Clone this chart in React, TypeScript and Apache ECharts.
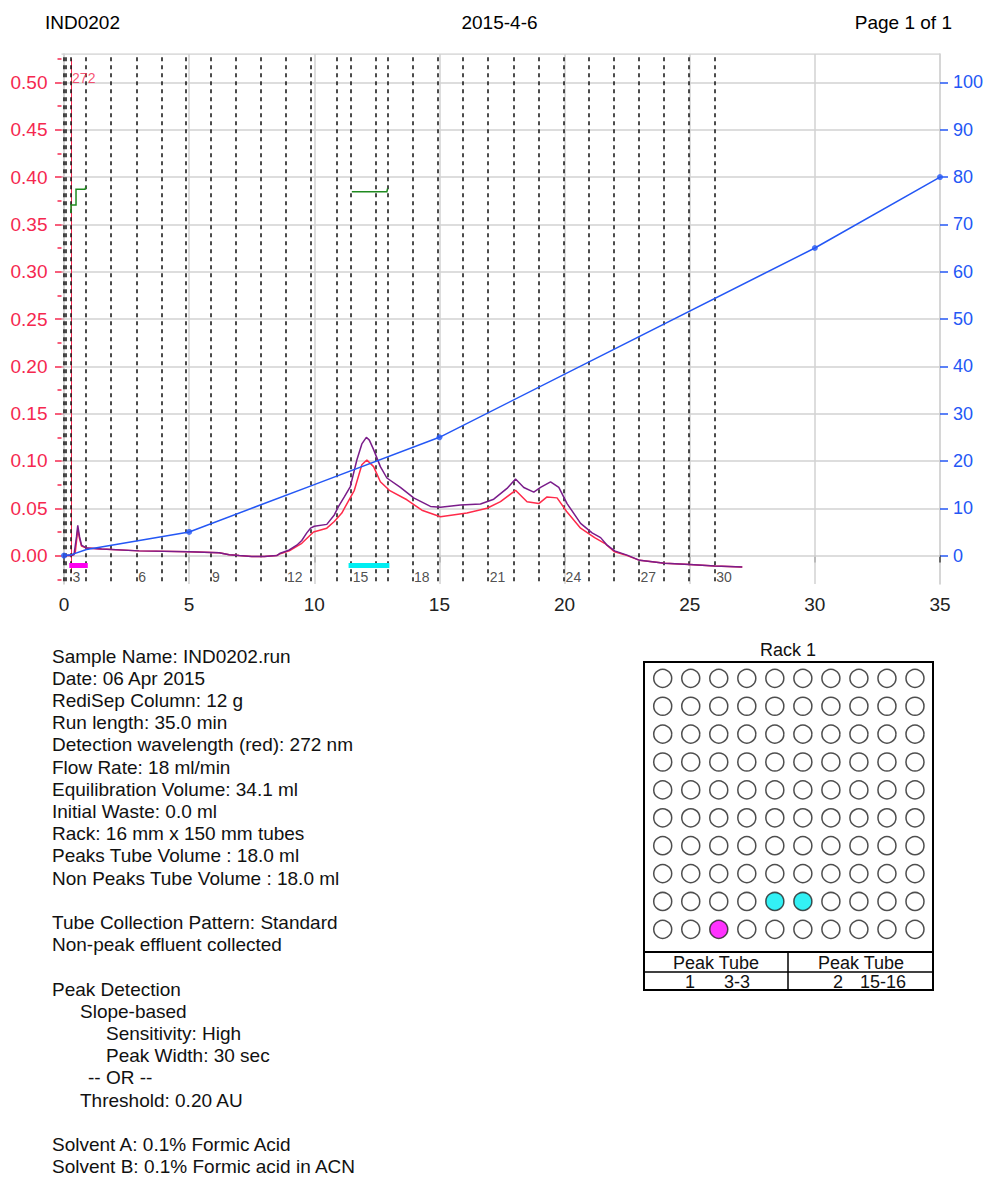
import React, { useEffect, useRef } from "react";
import * as echarts from "echarts";

// ---------- data ----------
const xTicks = [0, 5, 10, 15, 20, 25, 30, 35];
const leftTicks = [0, 5, 10, 15, 20, 25, 30, 35, 40, 45, 50].map((v) => v / 100);
const leftMinorTicks = [-25, 25, 75, 125, 175, 225, 275, 325, 375, 425, 475, 525].map((v) => v / 1000);
const rightTicks = [0, 10, 20, 30, 40, 50, 60, 70, 80, 90, 100];

// tube start times (min), tube 1..30
const tubeStarts = [0, 0.07, 0.28, 0.87, 1.87, 2.9, 3.9, 4.88, 5.85, 6.85, 7.85, 8.85, 9.85, 10.88, 11.47,
  12.45, 12.93, 13.92, 14.92, 15.95, 16.95, 17.96, 18.98, 19.98, 20.97, 21.96, 22.97, 23.97, 24.97, 26.0];
const tubeLabelNums = [3, 6, 9, 12, 15, 18, 21, 24, 27, 30];

// absorbance traces [time, AU]
const redTrace: [number, number][] = [
  [0, 0], [0.28, 0], [0.45, 0.003], [0.55, 0.028], [0.62, 0.018], [0.7, 0.01], [0.9, 0.008], [1.5, 0.007],
  [3, 0.005], [5, 0.004], [6.2, 0.003], [6.6, 0.001], [7, 0], [7.5, -0.001], [8, -0.001], [8.5, 0],
  [8.64, 0.002], [9.0, 0.005], [9.5, 0.013], [9.97, 0.025], [10.5, 0.029], [10.8, 0.036], [11.1, 0.045],
  [11.6, 0.069], [11.9, 0.096], [12.1, 0.101], [12.37, 0.094], [12.64, 0.078], [13.0, 0.069], [13.7, 0.059],
  [14.3, 0.048], [15.04, 0.041], [16.1, 0.045], [16.9, 0.05], [17.44, 0.057], [18.04, 0.069], [18.5, 0.057],
  [18.97, 0.055], [19.3, 0.062], [19.7, 0.061], [20.1, 0.046], [20.64, 0.029], [21.2, 0.019], [21.6, 0.013],
  [22.0, 0.004], [22.5, 0.0], [23, -0.005], [24, -0.008], [25, -0.0095], [26, -0.011], [27.1, -0.012],
];
const purpleTrace: [number, number][] = [
  [0, 0], [0.28, 0], [0.4, 0.001], [0.5, 0.02], [0.55, 0.032], [0.62, 0.02], [0.7, 0.011], [0.9, 0.008],
  [1.5, 0.007], [3, 0.005], [5, 0.004], [6.2, 0.003], [6.6, 0.001], [7, 0], [7.5, -0.001], [8.0, -0.001],
  [8.5, 0.0], [8.64, 0.0025], [9.0, 0.006], [9.3, 0.011], [9.5, 0.016], [9.7, 0.024], [9.85, 0.029],
  [10.0, 0.031], [10.5, 0.033], [10.8, 0.043], [10.97, 0.052], [11.2, 0.062], [11.44, 0.073], [11.7, 0.101],
  [11.9, 0.118], [12.08, 0.125], [12.2, 0.122], [12.37, 0.112], [12.64, 0.094], [12.9, 0.082], [13.44, 0.072],
  [13.97, 0.061], [14.64, 0.052], [15.04, 0.051], [15.84, 0.0535], [16.64, 0.0546], [17.17, 0.0596],
  [17.7, 0.071], [18.04, 0.081], [18.37, 0.072], [18.77, 0.067], [19.04, 0.072], [19.44, 0.078],
  [19.77, 0.072], [20.1, 0.055], [20.64, 0.034], [21.1, 0.024], [21.44, 0.019], [21.7, 0.011], [22.0, 0.005],
  [22.5, 0.0005], [23, -0.005], [24, -0.008], [25, -0.0095], [26, -0.011], [27.1, -0.012],
];

// %B gradient
const gradientTime = [0, 0.3, 0.9, 5, 10, 15, 30, 35];
const gradientB = [0, 0.2, 1.3, 5, 15, 25, 65, 80];
const nodeTime = [0, 5, 15, 30, 35];
const nodeB = [0, 5, 25, 65, 80];

// peak detection markers (green)
const greenStep1: [number, number][] = [[0.28, 0.362], [0.28, 0.3705], [0.48, 0.3705], [0.48, 0.387], [0.84, 0.387], [0.88, 0.39]];
const greenStep2: [number, number][] = [[11.5, 0.3845], [12.9, 0.3845], [12.93, 0.388]];

// collected peak bars [start, end, level]
const peakBar1: [number, number, number] = [0.21, 0.95, -0.0098];
const peakBar2: [number, number, number] = [11.37, 13.0, -0.0098];
const wavelengthLine = 0.28;
const wavelengthLabel = "272";

// rack
const peakTubes1 = [3];
const peakTubes2 = [15, 16];
const rackCols = 10;
const rackRows = 10;

const headerTexts = ["IND0202", "2015-4-6", "Page 1 of 1"];
const infoLines = [
  "Sample Name: IND0202.run",
  "Date: 06 Apr 2015",
  "RediSep Column: 12 g",
  "Run length: 35.0 min",
  "Detection wavelength (red): 272 nm",
  "Flow Rate: 18 ml/min",
  "Equilibration Volume: 34.1 ml",
  "Initial Waste: 0.0 ml",
  "Rack: 16 mm x 150 mm tubes",
  "Peaks Tube Volume : 18.0 ml",
  "Non Peaks Tube Volume : 18.0 ml",
  "",
  "Tube Collection Pattern: Standard",
  "Non-peak effluent collected",
  "",
  "Peak Detection",
  "Slope-based",
  "Sensitivity: High",
  "Peak Width: 30 sec",
  "-- OR --",
  "Threshold: 0.20 AU",
  "",
  "Solvent A: 0.1% Formic Acid",
  "Solvent B: 0.1% Formic acid in ACN",
];
const tableHeader = ["Peak Tube", "Peak Tube"];
const tableRows = [["1", "3-3"], ["2", "15-16"]];

// ---------- styles ----------
const FONT = '"Liberation Sans", Arial, Helvetica, sans-serif';
const RED = "#f5284f";
const PURPLE = "#7a1c8a";
const BLUE = "#2457f5";
const GRID = "#d2d2d2";
const Y_MIN = -0.03, Y_MAX = 0.53;
const X_MIN = -0.1, X_MAX = 35;

function txt(text: string, x: number, y: number, size: number, align: string, color = "#111") {
  return {
    type: "text",
    silent: true,
    style: {
      text, x, y, fill: color, fontSize: size, fontFamily: FONT, lineHeight: size,
      align, verticalAlign: "middle", textAlign: align, textVerticalAlign: "middle",
    },
  };
}

export default function App() {
  const ref = useRef<HTMLDivElement>(null);
  useEffect(() => {
    if (!ref.current) return;
    const chart = echarts.init(ref.current, null, { renderer: "svg" });

    const gridLines: any[] = [];
    leftTicks.forEach((v) => gridLines.push({ coords: [[X_MIN, v], [X_MAX, v]] }));
    xTicks.slice(1, -1).forEach((v) => gridLines.push({ coords: [[v, Y_MIN], [v, Y_MAX]] }));
    gridLines.push({ coords: [[X_MIN, Y_MAX], [X_MAX, Y_MAX]] });

    const tubeLines = tubeStarts.map((t) => ({ coords: [[t, -0.027], [t, Y_MAX]] }));

    const rackData: any[] = [];
    for (let n = 1; n <= rackCols * rackRows; n++) {
      const col = ((n - 1) % rackCols) + 1;
      const row = Math.floor((n - 1) / rackCols) + 1;
      let color = "#ffffff";
      if (peakTubes1.includes(n)) color = "#ff00ff";
      if (peakTubes2.includes(n)) color = "#00eef2";
      rackData.push({ value: [col, row, n], itemStyle: { color } });
    }

    const indentX = (i: number) => {
      const t = infoLines[i];
      if (t.startsWith("Sensitivity") || t.startsWith("Peak Width")) return 106;
      if (t.startsWith("--")) return 88;
      if (t.startsWith("Slope") || t.startsWith("Threshold")) return 80;
      return 52;
    };

    const graphics: any[] = [
      txt(headerTexts[0], 45, 22, 19, "left", "#000"),
      txt(headerTexts[1], 499.5, 22, 19, "center", "#000"),
      txt(headerTexts[2], 952, 22, 19, "right", "#000"),
      ...infoLines.map((t, i) => (t ? txt(t, indentX(i), 656 + 22.2 * i, 19, "left") : null)).filter(Boolean),
      txt("Rack 1", 788, 650, 18, "center"),
      { type: "rect", silent: true, shape: { x: 644, y: 662, width: 289, height: 328 }, style: { fill: "none", stroke: "#000", lineWidth: 2 } },
      { type: "line", silent: true, shape: { x1: 644, y1: 952, x2: 933, y2: 952 }, style: { stroke: "#000", lineWidth: 2 } },
      { type: "line", silent: true, shape: { x1: 644, y1: 972, x2: 933, y2: 972 }, style: { stroke: "#000", lineWidth: 1.5 } },
      { type: "line", silent: true, shape: { x1: 788, y1: 952, x2: 788, y2: 990 }, style: { stroke: "#000", lineWidth: 1.5 } },
      txt(tableHeader[0], 716, 962.5, 18, "center"),
      txt(tableHeader[1], 861, 962.5, 18, "center"),
      txt(tableRows[0][0], 690, 981.5, 18, "center"),
      txt(tableRows[0][1], 737, 981.5, 18, "center"),
      txt(tableRows[1][0], 838, 981.5, 18, "center"),
      txt(tableRows[1][1], 883, 981.5, 18, "center"),
    ];

    const option: any = {
      animation: false,
      backgroundColor: "#ffffff",
      textStyle: { fontFamily: FONT },
      graphic: graphics,
      grid: [
        { left: 61.5, right: 47, top: 54, bottom: 593 },
        { left: 648.7, width: 280.3, top: 664.4, height: 278.9 },
      ],
      xAxis: [
        {
          type: "value", gridIndex: 0, min: X_MIN, max: X_MAX,
          axisLine: { show: false },
          splitLine: { show: false },
          axisTick: { show: true, customValues: xTicks, length: 7, lineStyle: { color: "#444", width: 1.5 } },
          axisLabel: { customValues: xTicks, fontSize: 19, color: "#222", margin: 11, fontFamily: FONT },
        },
        { type: "value", gridIndex: 1, min: 0.5, max: 10.5, show: false },
      ],
      yAxis: [
        {
          type: "value", gridIndex: 0, position: "left", min: Y_MIN, max: Y_MAX,
          axisLine: { show: true, lineStyle: { color: "#c8c8c8", width: 1.5 } },
          splitLine: { show: false },
          axisTick: { show: true, customValues: leftTicks, length: 9, lineStyle: { color: RED, width: 1.5 } },
          axisLabel: { customValues: leftTicks, formatter: (v: number) => v.toFixed(2), fontSize: 19, color: RED, margin: 14, fontFamily: FONT },
        },
        {
          type: "value", gridIndex: 0, position: "left", offset: 0, min: Y_MIN, max: Y_MAX,
          axisLine: { show: false },
          splitLine: { show: false },
          axisTick: { show: true, customValues: leftMinorTicks, length: 4, lineStyle: { color: RED, width: 1.5 } },
          axisLabel: { show: false },
        },
        {
          type: "value", gridIndex: 0, position: "right", min: -6, max: 106,
          axisLine: { show: true, lineStyle: { color: "#c8c8c8", width: 1.5 } },
          splitLine: { show: false },
          axisTick: { show: true, customValues: rightTicks, length: 8, lineStyle: { color: BLUE, width: 1.5 } },
          axisLabel: { customValues: rightTicks, fontSize: 18, color: BLUE, margin: 13, fontFamily: FONT },
        },
        { type: "value", gridIndex: 1, min: 0.5, max: 10.5, show: false },
      ],
      series: [
        {
          type: "lines", coordinateSystem: "cartesian2d", xAxisIndex: 0, yAxisIndex: 0, silent: true, z: 1,
          data: gridLines, lineStyle: { color: GRID, width: 1.5, opacity: 1 },
        },
        {
          type: "lines", coordinateSystem: "cartesian2d", xAxisIndex: 0, yAxisIndex: 0, silent: true, z: 2,
          data: [{ coords: [[wavelengthLine, 0.525], [wavelengthLine, -0.018]] }],
          lineStyle: { color: RED, width: 1, opacity: 1 },
        },
        {
          type: "lines", coordinateSystem: "cartesian2d", xAxisIndex: 0, yAxisIndex: 0, silent: true, z: 3,
          data: tubeLines, lineStyle: { color: "#111", width: 1.5, type: [4, 4], opacity: 1 },
        },
        {
          type: "line", xAxisIndex: 0, yAxisIndex: 0, data: redTrace, showSymbol: false, symbol: "none", z: 4,
          lineStyle: { color: "#ff2a4a", width: 1.5 }, silent: true,
        },
        {
          type: "line", xAxisIndex: 0, yAxisIndex: 0, data: purpleTrace, showSymbol: false, symbol: "none", z: 5,
          lineStyle: { color: PURPLE, width: 1.5 }, silent: true,
        },
        {
          type: "line", xAxisIndex: 0, yAxisIndex: 2, data: gradientTime.map((t, i) => [t, gradientB[i]]),
          showSymbol: false, symbol: "none", z: 6, lineStyle: { color: BLUE, width: 1.5 }, silent: true,
        },
        {
          type: "scatter", xAxisIndex: 0, yAxisIndex: 2, data: nodeTime.map((t, i) => [t, nodeB[i]]),
          symbolSize: 6, itemStyle: { color: BLUE }, z: 7, silent: true,
        },
        {
          type: "lines", coordinateSystem: "cartesian2d", polyline: true, xAxisIndex: 0, yAxisIndex: 0, silent: true, z: 7,
          data: [{ coords: greenStep1 }, { coords: greenStep2 }],
          lineStyle: { color: "#1f8a1f", width: 1.5, opacity: 1 },
        },
        {
          type: "lines", coordinateSystem: "cartesian2d", xAxisIndex: 0, yAxisIndex: 0, silent: true, z: 8,
          data: [
            { coords: [[peakBar1[0], peakBar1[2]], [peakBar1[1], peakBar1[2]]], lineStyle: { color: "#ff00f0" } },
            { coords: [[peakBar2[0], peakBar2[2]], [peakBar2[1], peakBar2[2]]], lineStyle: { color: "#00eef2" } },
          ],
          lineStyle: { width: 5, opacity: 1 },
        },
        {
          type: "scatter", xAxisIndex: 0, yAxisIndex: 0, z: 9, silent: true,
          data: tubeLabelNums.map((n) => [tubeStarts[n - 1], -0.0225, n]),
          symbol: "circle", symbolSize: 0.1, itemStyle: { color: "rgba(0,0,0,0)" },
          label: { show: true, position: "right", distance: 1.5, formatter: (p: any) => String(p.value[2]), fontSize: 14, color: "#222", fontFamily: FONT },
        },
        {
          type: "scatter", xAxisIndex: 0, yAxisIndex: 0, z: 9, silent: true,
          data: [[wavelengthLine, 0.5045]],
          symbol: "circle", symbolSize: 0.1, itemStyle: { color: "rgba(0,0,0,0)" },
          label: { show: true, position: "right", distance: 1, formatter: wavelengthLabel, fontSize: 14, color: RED, fontFamily: FONT },
        },
        {
          type: "scatter", xAxisIndex: 1, yAxisIndex: 3, data: rackData, symbolSize: 18, silent: true,
          itemStyle: { borderColor: "#222", borderWidth: 1.5 },
        },
      ],
    };
    chart.setOption(option);
    return () => chart.dispose();
  }, []);

  return (
    <div
      ref={ref}
      style={{ position: "absolute", left: 0, top: 0, width: 987, height: 1177, background: "#fff" }}
    />
  );
}
